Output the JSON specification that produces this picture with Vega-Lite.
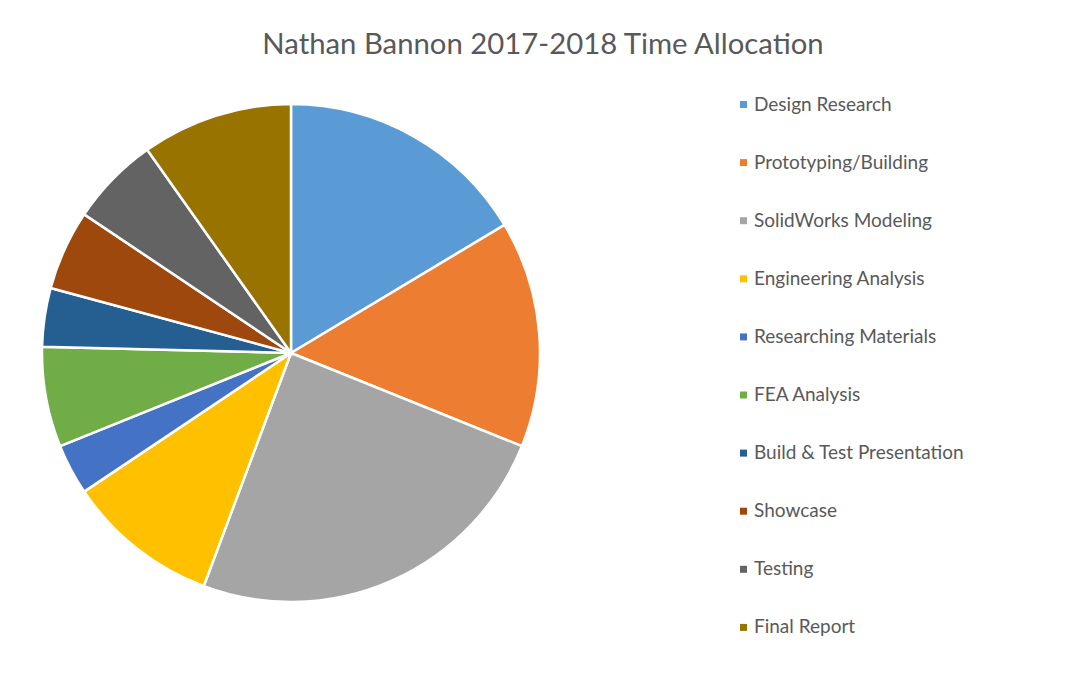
{
  "$schema": "https://vega.github.io/schema/vega-lite/v6.json",
  "width": 542,
  "height": 566,
  "autosize": {"type": "none"},
  "padding": {"left": 20, "top": 70, "right": 508, "bottom": 41},
  "background": "white",
  "title": {
    "text": "Nathan Bannon 2017-2018 Time Allocation",
    "anchor": "middle",
    "frame": "group",
    "dx": 252,
    "offset": 10,
    "font": "Lato",
    "fontSize": 29.3,
    "fontWeight": "normal",
    "color": "#595959"
  },
  "data": {
    "values": [
      {"i": 1, "task": "Design Research", "share": 16.4},
      {"i": 2, "task": "Prototyping/Building", "share": 14.7},
      {"i": 3, "task": "SolidWorks Modeling", "share": 24.6},
      {"i": 4, "task": "Engineering Analysis", "share": 9.9},
      {"i": 5, "task": "Researching Materials", "share": 3.3},
      {"i": 6, "task": "FEA Analysis", "share": 6.5},
      {"i": 7, "task": "Build & Test Presentation", "share": 3.8},
      {"i": 8, "task": "Showcase", "share": 5.2},
      {"i": 9, "task": "Testing", "share": 5.8},
      {"i": 10, "task": "Final Report", "share": 9.8}
    ]
  },
  "mark": {"type": "arc", "radius": 249, "stroke": "white", "strokeWidth": 2.5},
  "encoding": {
    "theta": {"field": "share", "type": "quantitative", "stack": true},
    "order": {"field": "i", "type": "quantitative"},
    "color": {
      "field": "task",
      "type": "nominal",
      "sort": ["Design Research", "Prototyping/Building", "SolidWorks Modeling", "Engineering Analysis", "Researching Materials", "FEA Analysis", "Build & Test Presentation", "Showcase", "Testing", "Final Report"],
      "scale": {
        "domain": ["Design Research", "Prototyping/Building", "SolidWorks Modeling", "Engineering Analysis", "Researching Materials", "FEA Analysis", "Build & Test Presentation", "Showcase", "Testing", "Final Report"],
        "range": ["#5B9BD5", "#ED7D31", "#A5A5A5", "#FFC000", "#4472C4", "#70AD47", "#255E91", "#9E480E", "#636363", "#997300"]
      },
      "legend": {
        "title": null,
        "orient": "none",
        "legendX": 714,
        "legendY": 25,
        "padding": 0,
        "symbolType": "square",
        "symbolSize": 49,
        "symbolStrokeWidth": 0,
        "labelFont": "Lato",
        "labelFontSize": 19,
        "labelColor": "#595959",
        "labelOffset": 1,
        "rowPadding": 38.1,
        "labelLimit": 400
      }
    }
  },
  "config": {"view": {"stroke": null}}
}
